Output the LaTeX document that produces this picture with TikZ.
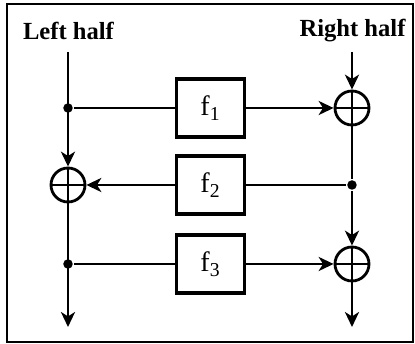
\documentclass[tikz,border=0pt]{standalone}
\usepackage{fontspec}
\setmainfont{Liberation Serif}
\usepackage{tikz}
\usetikzlibrary{arrows.meta}
\usetikzlibrary{positioning}

\begin{document}
\begin{tikzpicture}[>={Stealth[length=8.5pt,width=8pt,inset=2.5pt]},line width=1.6pt,
  fbox/.style={rectangle,draw,line width=1.9pt,minimum width=1.36cm,minimum height=1.16cm,font=\fontsize{16}{18}\selectfont},
  xor node/.style={circle,draw,minimum size=0.68cm,inner sep=0pt,
    path picture={\draw[line width=1.3pt] (path picture bounding box.north) -- (path picture bounding box.south)
      (path picture bounding box.west) -- (path picture bounding box.east);}},
  dot node/.style={circle,fill,minimum size=0.19cm,inner sep=0pt},
  head node/.style={font=\fontsize{14}{16}\selectfont\bfseries}]

  \useasboundingbox (0,0) rectangle (8.3,6.88);
  \draw[line width=1.2pt] (0.14,0.04) rectangle (8.26,6.8);

  \node[head node] (lh) at (1.37,6.26) {Left half};
  \node[head node] (rh) at (7.05,6.26) {Right half};
  \coordinate (ltop) at (1.36,5.84);
  \coordinate (rtop) at (7.04,5.84);

  \node[xor node] (x1) at (7.04,4.72) {};
  \node[xor node] (x2) at (1.36,3.18) {};
  \node[xor node] (x3) at (7.04,1.6) {};

  \node[dot node] (d1) at (1.36,4.72) {};
  \node[dot node] (d2) at (7.04,3.18) {};
  \node[dot node] (d3) at (1.36,1.6) {};

  \node[fbox] (f1) at (4.21,4.72) {f\textsubscript{1}};
  \node[fbox] (f2) at (4.21,3.18) {f\textsubscript{2}};
  \node[fbox] (f3) at (4.21,1.6) {f\textsubscript{3}};

  \coordinate (lout) at (1.36,0.34);
  \coordinate (rout) at (7.04,0.34);

  % left side
  \draw[->] (ltop) -- (x2);
  \draw[->] (x2) -- (lout);
  % right side
  \draw[->] (rtop) -- (x1);
  \draw (x1) -- (d2);
  \draw[->] (d2) -- (x3);
  \draw[->] (x3) -- (rout);
  % rounds
  \draw (d1) -- (f1);
  \draw[->] (f1) -- (x1);
  \draw (d2) -- (f2);
  \draw[->] (f2) -- (x2);
  \draw (d3) -- (f3);
  \draw[->] (f3) -- (x3);
\end{tikzpicture}
\end{document}
